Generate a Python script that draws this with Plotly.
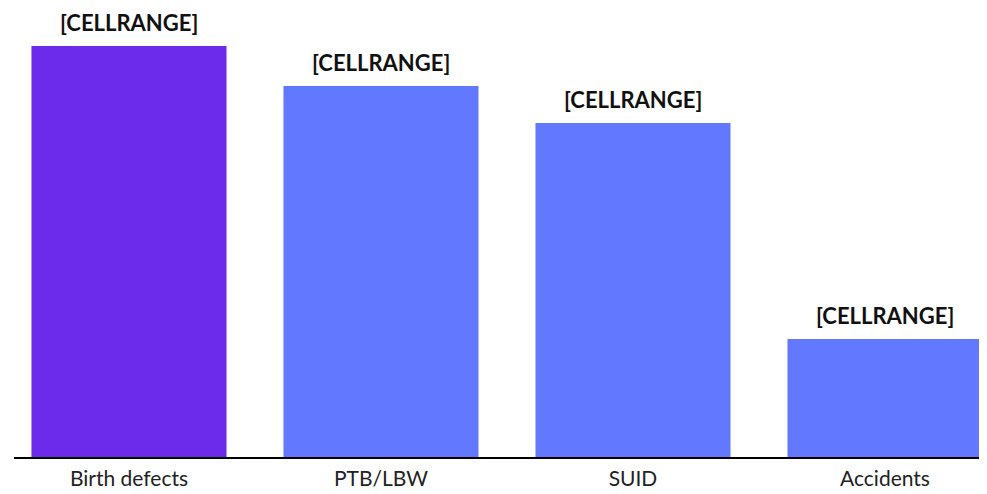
import plotly.graph_objects as go

categories = ["Birth defects", "PTB/LBW", "SUID", "Accidents"]
values = [41.1, 37.1, 33.4, 11.8]
labels = ["[CELLRANGE]", "[CELLRANGE]", "[CELLRANGE]", "[CELLRANGE]"]
colors = ["#6C2BEA", "#6278FF", "#6278FF", "#6278FF"]

fig = go.Figure()
fig.add_trace(go.Bar(
    x=categories, y=values,
    marker=dict(color=colors, line=dict(width=0)),
    width=0.774,
    hoverinfo="skip",
))

for c, v, t in zip(categories, values, labels):
    fig.add_annotation(
        x=c, y=v, text="<b>" + t + "</b>", showarrow=False,
        yanchor="bottom", yshift=9, borderpad=0,
        font=dict(family="Lato, Open Sans, sans-serif", size=22, color="#111111"),
    )

fig.update_layout(
    width=987, height=494,
    margin=dict(l=6, r=8, t=0, b=45),
    paper_bgcolor="white", plot_bgcolor="white",
    showlegend=False,
    xaxis=dict(
        range=[-0.4563, 3.4048],
        showline=True, linecolor="black", linewidth=2,
        ticks="", showgrid=False, zeroline=False,
        tickfont=dict(family="Lato, Open Sans, sans-serif", size=21, color="#222222"),
        ticklabelstandoff=2,
    ),
    yaxis=dict(
        range=[0, 44.9], visible=False, showgrid=False, zeroline=False,
    ),
)

fig.write_html("out.html")
